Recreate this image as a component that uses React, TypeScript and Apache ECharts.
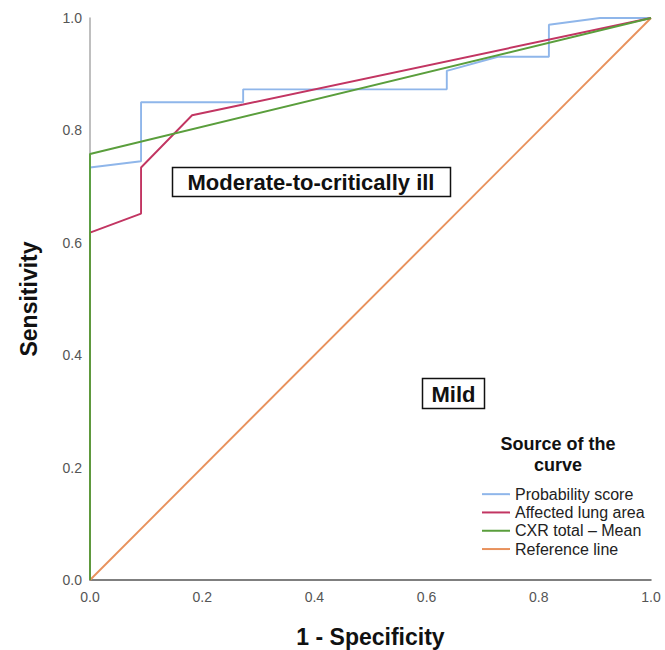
import React, { useEffect, useRef } from "react";
import * as echarts from "echarts";

const seriesNames = ["Probability score", "Affected lung area", "CXR total – Mean", "Reference line"];
const seriesColors = ["#8fb6ea", "#c23562", "#5a9e3c", "#e8915c"];

const probX = [0, 0, 0.091, 0.091, 0.273, 0.273, 0.636, 0.636, 0.727, 0.818, 0.818, 0.909, 1];
const probY = [0, 0.734, 0.745, 0.85, 0.85, 0.873, 0.873, 0.906, 0.931, 0.931, 0.988, 1, 1];

const lungX = [0, 0, 0.091, 0.091, 0.182, 0.273, 1];
const lungY = [0, 0.618, 0.652, 0.734, 0.827, 0.846, 1];

const cxrX = [0, 0, 1];
const cxrY = [0, 0.758, 1];

const refX = [0, 1];
const refY = [0, 1];

const tickValues = [0, 0.2, 0.4, 0.6, 0.8, 1.0];

const zip = (xs: number[], ys: number[]) => xs.map((x, i) => [x, ys[i]]);

export default function App() {
  const ref = useRef<HTMLDivElement>(null);
  useEffect(() => {
    if (!ref.current) return;
    const chart = echarts.init(ref.current, undefined, { renderer: "svg" });
    const font = "Liberation Sans, Arial, sans-serif";
    const mk = (i: number, data: number[][], z: number) => ({
      name: seriesNames[i],
      type: "line",
      data,
      showSymbol: false,
      symbol: "none",
      z,
      lineStyle: { color: seriesColors[i], width: 1.9 },
      itemStyle: { color: seriesColors[i] },
    });
    const axisCommon = {
      type: "value",
      min: 0,
      max: 1,
      interval: 0.2,
      splitLine: { show: false },
      axisTick: { show: false },
      nameLocation: "middle",
      nameTextStyle: { fontFamily: font, fontWeight: "bold", fontSize: 23, color: "#111" },
      axisLabel: {
        fontFamily: font,
        fontSize: 14,
        color: "#555",
        margin: 8,
        formatter: (v: number) => (tickValues.some((t) => Math.abs(t - v) < 1e-9) ? v.toFixed(1) : ""),
      },
    };
    chart.setOption({
      animation: false,
      backgroundColor: "#fff",
      grid: { left: 90, right: 14, top: 18, bottom: 70, containLabel: false, outerBoundsMode: "none" },
      xAxis: {
        ...axisCommon,
        name: "1 - Specificity",
        nameGap: 45,
        axisLabel: { ...axisCommon.axisLabel, margin: 10 },
        axisLine: { show: true, lineStyle: { color: "#555", width: 1.5 } },
      },
      yAxis: {
        ...axisCommon,
        name: "Sensitivity",
        nameGap: 50,
        axisLine: { show: true, lineStyle: { color: "#aaa", width: 1.5 } },
      },
      legend: {
        orient: "vertical",
        left: 477,
        top: 480,
        icon: "rect",
        itemWidth: 28,
        itemHeight: 2,
        itemGap: 0,
        selectedMode: false,
        textStyle: { fontFamily: font, fontSize: 16, color: "#222", lineHeight: 18.3 },
        data: seriesNames,
      },
      series: [
        mk(3, zip(refX, refY), 1),
        mk(0, zip(probX, probY), 2),
        mk(1, zip(lungX, lungY), 3),
        mk(2, zip(cxrX, cxrY), 4),
      ],
      graphic: [
        {
          type: "rect",
          shape: { x: 172.5, y: 167.5, width: 278, height: 29 },
          style: { fill: "#fff", stroke: "#111", lineWidth: 1.5 },
          z: 10,
        },
        {
          type: "text",
          x: 311,
          y: 182,
          style: {
            text: "Moderate-to-critically ill",
            fontFamily: font,
            fontWeight: "bold",
            fontSize: 22,
            fill: "#111",
            align: "center",
            verticalAlign: "middle",
          },
          z: 11,
        },
        {
          type: "rect",
          shape: { x: 422.5, y: 378.5, width: 62, height: 30 },
          style: { fill: "#fff", stroke: "#111", lineWidth: 1.5 },
          z: 10,
        },
        {
          type: "text",
          x: 453.5,
          y: 394,
          style: {
            text: "Mild",
            fontFamily: font,
            fontWeight: "bold",
            fontSize: 22,
            fill: "#111",
            align: "center",
            verticalAlign: "middle",
          },
          z: 11,
        },
        {
          type: "text",
          x: 558,
          y: 454.5,
          style: {
            text: "Source of the\ncurve",
            fontFamily: font,
            fontWeight: "bold",
            fontSize: 18,
            lineHeight: 21,
            fill: "#111",
            align: "center",
            verticalAlign: "middle",
          },
          z: 11,
        },
      ],
    });
    return () => chart.dispose();
  }, []);
  return (
    <div
      ref={ref}
      style={{ position: "absolute", left: 0, top: 0, width: 665, height: 650 }}
    />
  );
}
